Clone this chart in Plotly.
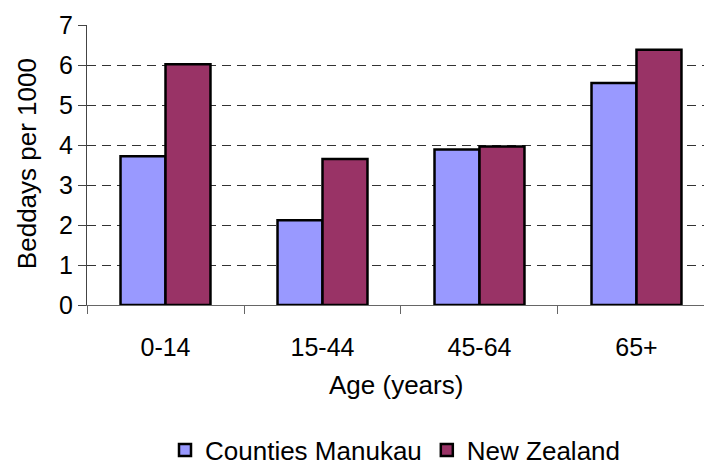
import plotly.graph_objects as go

# Beddays per 1000 population by age group
age_groups = ["0-14", "15-44", "45-64", "65+"]
counties_manukau = [3.72, 2.12, 3.89, 5.55]
new_zealand = [6.02, 3.65, 3.96, 6.38]
y_ticks = [0, 1, 2, 3, 4, 5, 6, 7]

FONT = "Liberation Sans, Arial, sans-serif"

fig = go.Figure()
fig.add_trace(go.Bar(
    name="Counties Manukau", x=age_groups, y=counties_manukau,
    marker=dict(color="#9999FF", line=dict(color="black", width=2.5)),
))
fig.add_trace(go.Bar(
    name="New Zealand", x=age_groups, y=new_zealand,
    marker=dict(color="#993366", line=dict(color="black", width=2.5)),
))

fig.update_layout(
    width=704, height=466,
    margin=dict(l=87, r=0, t=25, b=161, autoexpand=False),
    paper_bgcolor="white", plot_bgcolor="white",
    font=dict(family=FONT, size=25, color="black"),
    barmode="group", bargap=0.427, bargroupgap=0,
    showlegend=True,
    legend=dict(orientation="h", x=0.5, xanchor="center",
                yref="container", y=0.034, yanchor="middle",
                font=dict(size=26), itemwidth=30, tracegroupgap=0),
)

fig.update_xaxes(
    range=[-0.5, 3.43], type="category",
    showline=True, linecolor="#666", linewidth=1,
    ticks="outside", tickson="boundaries", ticklen=8, tickcolor="#666",
    ticklabelstandoff=20,
    showgrid=False, zeroline=False,
)
fig.update_yaxes(
    range=[0, 7], tickvals=y_ticks,
    showline=True, linecolor="#444", linewidth=1,
    ticks="outside", ticklen=8, tickcolor="#444",
    showgrid=True, gridcolor="#333", gridwidth=1, griddash="9px,6px",
    zeroline=False,
)

fig.add_annotation(text="Beddays per 1000", textangle=-90,
                   xref="paper", yref="paper", x=-0.098, y=0.505,
                   xanchor="center", yanchor="middle", showarrow=False,
                   font=dict(size=26))
fig.add_annotation(text="Age (years)",
                   xref="paper", yref="paper", x=0.5, y=-0.286,
                   xanchor="center", yanchor="middle", showarrow=False,
                   font=dict(size=26))

fig.write_html("out.html")
